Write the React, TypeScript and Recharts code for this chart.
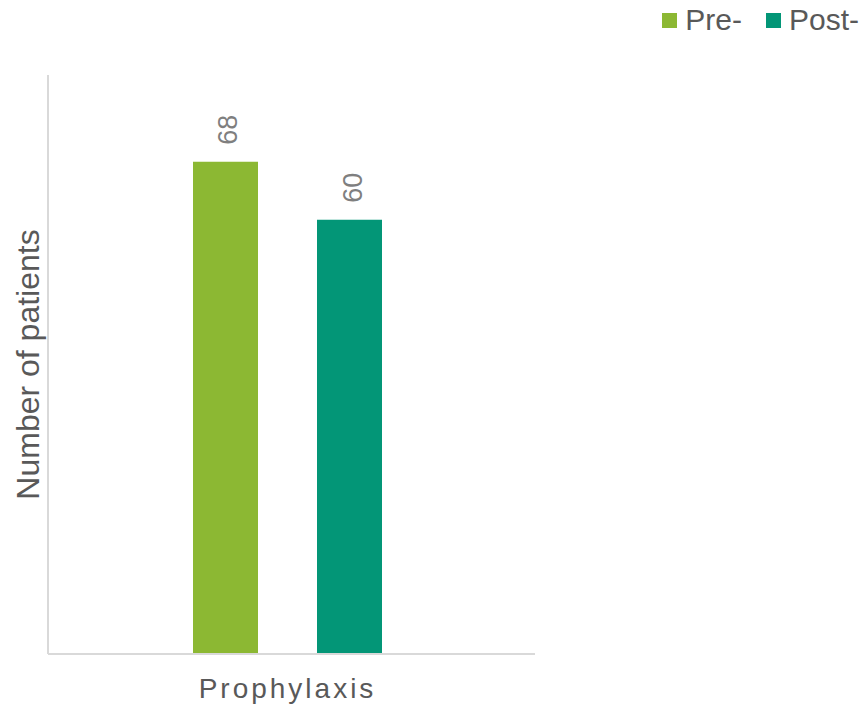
import { BarChart, Bar, XAxis, YAxis, Legend, LabelList } from 'recharts';

const categories = ['Prophylaxis'];
const preValues = [68];
const postValues = [60];
const seriesNames = ['Pre-', 'Post-'];
const seriesColors = ['#8cb833', '#039677'];

const data = categories.map((name, i) => ({ name, pre: preValues[i], post: postValues[i] }));

const FONT = '"Liberation Sans", Arial, sans-serif';

const renderLegend = () => (
  <div style={{ display: 'flex', alignItems: 'center', fontFamily: FONT, fontSize: 30, lineHeight: '32px', color: '#595959' }}>
    {seriesNames.map((n, i) => (
      <div key={n} style={{ display: 'flex', alignItems: 'center', marginLeft: i ? 24 : 0 }}>
        <span style={{ width: 15, height: 15, background: seriesColors[i], marginRight: 8, display: 'inline-block' }} />
        <span>{n}</span>
      </div>
    ))}
  </div>
);

const VLabel = (props: any) => {
  const { x, y, width, value } = props;
  const cx = x + width / 2 + 3;
  const ty = y - 17;
  return (
    <text
      x={cx}
      y={ty}
      transform={`rotate(-90, ${cx}, ${ty})`}
      textAnchor="start"
      dominantBaseline="central"
      fontSize={27}
      fontFamily={FONT}
      fill="#7f7f7f"
    >
      {value}
    </text>
  );
};

const YTitle = (props: any) => {
  const vb = props.viewBox;
  const cx = 28;
  const cy = vb.y + vb.height / 2;
  return (
    <text
      x={cx}
      y={cy}
      transform={`rotate(-90, ${cx}, ${cy})`}
      textAnchor="middle"
      dominantBaseline="central"
      fontSize={32}
      fontFamily={FONT}
      fill="#595959"
    >
      Number of patients
    </text>
  );
};

export default function App() {
  return (
    <div style={{ position: 'absolute', left: 0, top: 0 }}>
      <BarChart
        width={865}
        height={705}
        data={data}
        margin={{ top: 43, right: 330, bottom: 0, left: 0 }}
        barSize={65}
        barGap={59}
      >
        <XAxis
          dataKey="name"
          height={51}
          axisLine={{ stroke: '#d9d9d9', strokeWidth: 2 }}
          tickLine={false}
          tickSize={0}
          tickMargin={24}
          padding={{ left: 0, right: 8 }}
          tick={{ fontSize: 28, fill: '#595959', fontFamily: FONT, letterSpacing: 3 }}
        />
        <YAxis
          width={48}
          domain={[0, 80]}
          tick={false}
          tickLine={false}
          axisLine={{ stroke: '#d9d9d9', strokeWidth: 2 }}
          label={{ content: YTitle }}
        />
        <YAxis
          yAxisId="r"
          orientation="right"
          width={0}
          domain={[0, 80]}
          tick={false}
          tickLine={false}
          axisLine={{ stroke: '#d9d9d9', strokeWidth: 2 }}
        />
        <Legend
          verticalAlign="top"
          align="right"
          height={32}
          content={renderLegend}
          wrapperStyle={{ position: 'absolute', top: 4, right: 6, left: 'auto', width: 'auto' }}
        />
        <Bar dataKey="pre" name={seriesNames[0]} fill={seriesColors[0]} isAnimationActive={false}>
          <LabelList dataKey="pre" content={VLabel} />
        </Bar>
        <Bar dataKey="post" name={seriesNames[1]} fill={seriesColors[1]} isAnimationActive={false}>
          <LabelList dataKey="post" content={VLabel} />
        </Bar>
      </BarChart>
    </div>
  );
}
